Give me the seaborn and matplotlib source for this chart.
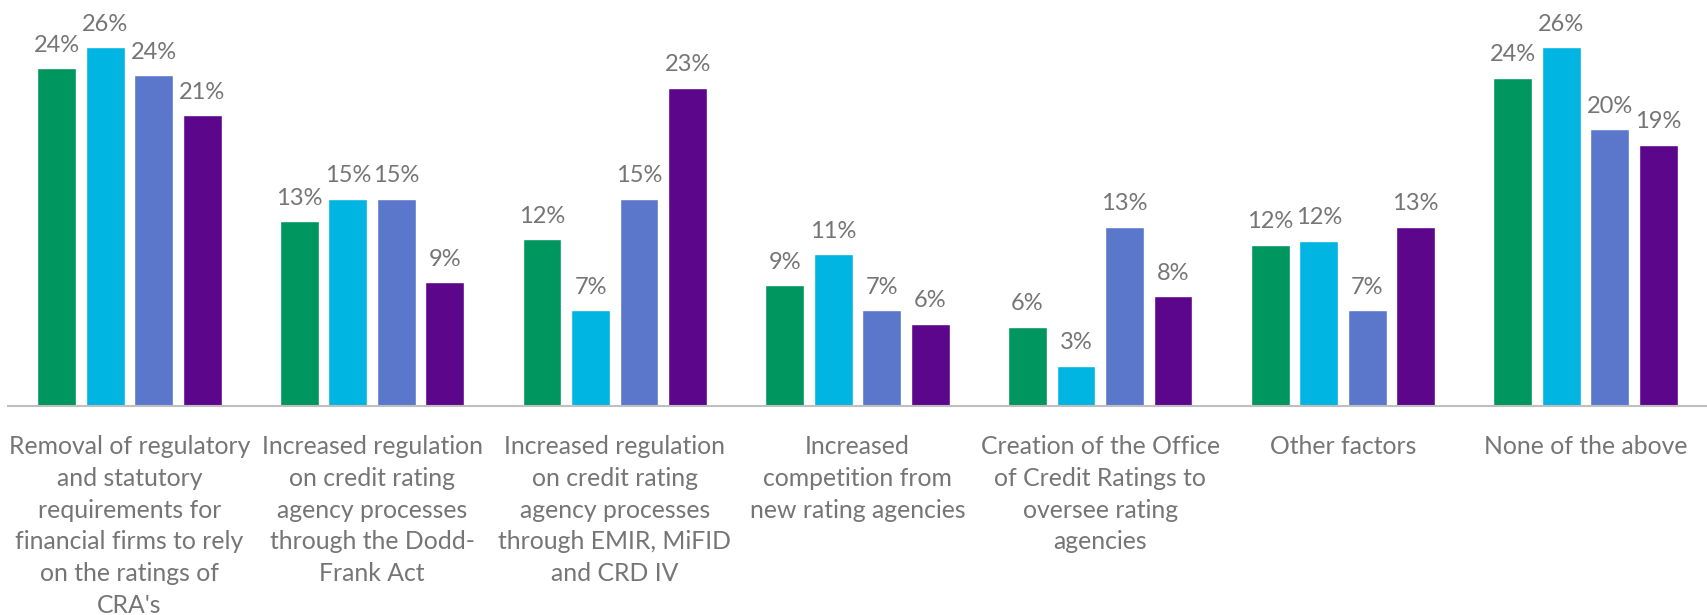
import pandas as pd
import matplotlib.pyplot as plt
import seaborn as sns

# Factors (x categories), wrapped as in the original chart
categories = [
    "Removal of regulatory\nand statutory\nrequirements for\nfinancial firms to rely\non the ratings of\nCRA's",
    "Increased regulation\non credit rating\nagency processes\nthrough the Dodd-\nFrank Act",
    "Increased regulation\non credit rating\nagency processes\nthrough EMIR, MiFID\nand CRD IV",
    "Increased\ncompetition from\nnew rating agencies",
    "Creation of the Office\nof Credit Ratings to\noversee rating\nagencies",
    "Other factors",
    "None of the above",
]

series_names = ["Series 1", "Series 2", "Series 3", "Series 4"]

# Percent of respondents, one list per series
series_1 = [24.3, 13.3, 12.0, 8.7, 5.7, 11.6, 23.6]
series_2 = [25.8, 14.9, 6.9, 10.9, 2.9, 11.9, 25.8]
series_3 = [23.8, 14.9, 14.9, 6.9, 12.9, 6.9, 19.9]
series_4 = [20.9, 8.9, 22.9, 5.9, 7.9, 12.9, 18.8]

colors = ["#00965F", "#00B5E2", "#5B77CC", "#5C068C"]
text_grey = "#757575"

rows = []
for name, vals in zip(series_names, [series_1, series_2, series_3, series_4]):
    for cat, v in zip(categories, vals):
        rows.append({"Factor": cat, "Series": name, "Pct": v})
df = pd.DataFrame(rows)

sns.set_style("white")
plt.rcParams['font.family'] = ['Lato', 'DejaVu Sans']

fig = plt.figure(figsize=(17.07, 6.15), dpi=100)
ax = fig.add_axes([0.0047, 0.3398, 0.9953, 0.6602])

sns.barplot(data=df, x="Factor", y="Pct", hue="Series", order=categories,
            hue_order=series_names, palette=colors, width=0.8, gap=0.2,
            saturation=1, legend=False, ax=ax)

for cont in ax.containers:
    ax.bar_label(cont, labels=[f"{b.get_height():.0f}%" for b in cont],
                 padding=9, fontsize=17, color=text_grey)

ax.set_xlim(-0.5, 6.5)
ax.set_ylim(0, 29.2)
ax.set_xlabel("")
ax.set_ylabel("")
ax.set_yticks([])
ax.tick_params(axis="x", length=0, pad=21, labelsize=17.8, labelcolor=text_grey)
for lab in ax.get_xticklabels():
    lab.set_linespacing(1.46)

for side in ["top", "left", "right"]:
    ax.spines[side].set_visible(False)
ax.spines["bottom"].set_color("#BFBFBF")
ax.spines["bottom"].set_linewidth(1.5)

plt.savefig("out.png", dpi=100)
plt.close()
